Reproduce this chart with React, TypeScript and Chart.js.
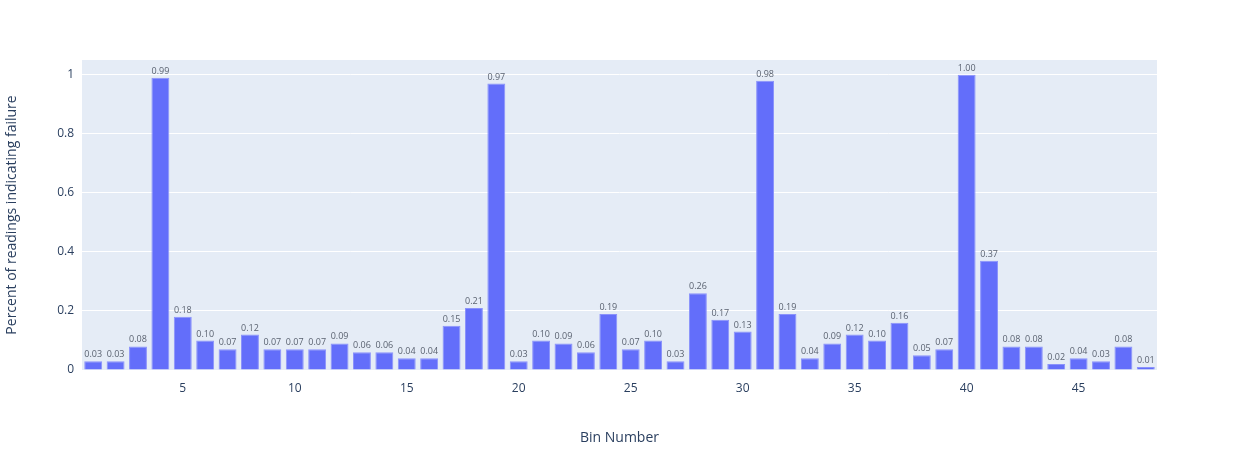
import { useEffect, useRef } from 'react';
import { Chart, registerables } from 'chart.js';

Chart.register(...registerables);

const bins = Array.from({ length: 48 }, (_, i) => String(i + 1));
const failureRate = [
  0.03, 0.03, 0.08, 0.99, 0.18, 0.10, 0.07, 0.12, 0.07, 0.07,
  0.07, 0.09, 0.06, 0.06, 0.04, 0.04, 0.15, 0.21, 0.97, 0.03,
  0.10, 0.09, 0.06, 0.19, 0.07, 0.10, 0.03, 0.26, 0.17, 0.13,
  0.98, 0.19, 0.04, 0.09, 0.12, 0.10, 0.16, 0.05, 0.07, 1.00,
  0.37, 0.08, 0.08, 0.02, 0.04, 0.03, 0.08, 0.01,
];
const yTicks = [0, 0.2, 0.4, 0.6, 0.8, 1];

const font = '"Open Sans", "DejaVu Sans", sans-serif';

const plotBg = {
  id: 'plotBg',
  beforeDraw(chart: any) {
    const { ctx, chartArea: a } = chart;
    ctx.save();
    ctx.fillStyle = '#E5ECF6';
    ctx.fillRect(a.left, a.top, a.right - a.left, a.bottom - a.top);
    ctx.restore();
  },
};

const barLabels = {
  id: 'barLabels',
  afterDatasetsDraw(chart: any) {
    const { ctx } = chart;
    const meta = chart.getDatasetMeta(0);
    ctx.save();
    ctx.font = `9px ${font}`;
    ctx.fillStyle = '#5a6270';
    ctx.textAlign = 'center';
    ctx.textBaseline = 'bottom';
    meta.data.forEach((bar: any, i: number) => {
      ctx.fillText(failureRate[i].toFixed(2), bar.x, bar.y - 2);
    });
    ctx.restore();
  },
};

export default function App() {
  const ref = useRef<HTMLCanvasElement>(null);

  useEffect(() => {
    document.body.style.margin = '0';
    if (!ref.current) return;
    const chart = new Chart(ref.current, {
      type: 'bar',
      data: {
        labels: bins,
        datasets: [
          {
            data: failureRate,
            backgroundColor: '#636EFA',
            borderColor: '#8a92fb',
            borderWidth: 1,
            categoryPercentage: 0.8,
            barPercentage: 1,
          },
        ],
      },
      options: {
        animation: false,
        responsive: false,
        layout: { padding: { top: 60, right: 80, left: 0, bottom: 0 } },
        plugins: { legend: { display: false }, tooltip: { enabled: false } },
        scales: {
          x: {
            grid: { display: false },
            border: { display: false },
            ticks: {
              autoSkip: false,
              maxRotation: 0,
              color: '#2a3f5f',
              font: { family: font, size: 12 },
              callback: (_v: any, i: number) => ((i + 1) % 5 === 0 ? String(i + 1) : ''),
            },
            title: {
              display: true,
              text: 'Bin Number',
              color: '#2a3f5f',
              font: { family: font, size: 14 },
              padding: { top: 8 },
            },
            afterFit: (s: any) => { s.height = 80; },
          },
          y: {
            min: 0,
            max: 1.05,
            afterBuildTicks: (s: any) => { s.ticks = yTicks.map((v) => ({ value: v })); },
            grid: { color: '#ffffff', lineWidth: 1, drawTicks: false },
            border: { display: false },
            ticks: {
              color: '#2a3f5f',
              padding: 8,
              font: { family: font, size: 12 },
              callback: (v: any) => (v === 0 || v === 1 ? String(v) : Number(v).toFixed(1)),
            },
            title: {
              display: true,
              text: 'Percent of readings indicating failure',
              color: '#2a3f5f',
              font: { family: font, size: 14 },
            },
            afterFit: (s: any) => { s.width = 82; },
          },
        },
      },
      plugins: [plotBg, barLabels],
    });
    return () => chart.destroy();
  }, []);

  return <canvas ref={ref} width={1237} height={450} style={{ display: 'block' }} />;
}
